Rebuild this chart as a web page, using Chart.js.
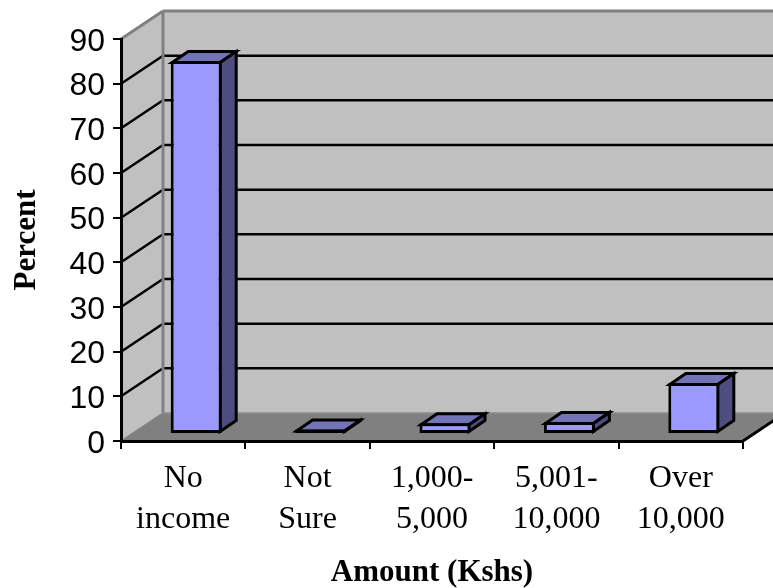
<!DOCTYPE html>
<html>
<head>
<meta charset="utf-8">
<title>Amount (Kshs)</title>
<script src="https://cdn.jsdelivr.net/npm/chart.js@4/dist/chart.umd.min.js"></script>
<style>
  body { margin: 0; background: #fff; }
  canvas { display: block; }
</style>
</head>
<body>
<canvas id="incomeChart" width="773" height="588"></canvas>
<script>
const categories = [['No', 'income'], ['Not', 'Sure'], ['1,000-', '5,000'], ['5,001-', '10,000'], ['Over', '10,000']];
const percentValues = [83.5, 1, 2.4, 2.7, 11.4];
const yMin = 0;
const yMax = 90;
const yStep = 10;

// depth of the fake 3D box and of each bar, in pixels
const wallDepth = { x: 42, y: -28 };
const barDepth = { x: 16, y: -11 };
const barShift = { x: 13, y: -7 };

const lineWidth = 3;

function polygon(ctx, points, fill, stroke) {
    ctx.beginPath();
    points.forEach((p, i) => i ? ctx.lineTo(p[0], p[1]) : ctx.moveTo(p[0], p[1]));
    ctx.closePath();
    ctx.fillStyle = fill;
    ctx.fill();
    if (stroke) {
        ctx.strokeStyle = stroke;
        ctx.lineWidth = lineWidth;
        ctx.lineJoin = 'miter';
        ctx.stroke();
    }
}

function line(ctx, x1, y1, x2, y2, color, width) {
    ctx.beginPath();
    ctx.moveTo(x1, y1);
    ctx.lineTo(x2, y2);
    ctx.strokeStyle = color;
    ctx.lineWidth = width;
    ctx.stroke();
}

// back wall, side wall, floor and the gridlines on them
const boxPlugin = {
    id: 'box3d',
    beforeDraw(chart) {
        const ctx = chart.ctx;
        const a = chart.chartArea;
        const y = chart.scales.y;
        const dx = wallDepth.x;
        const dy = wallDepth.y;
        const farRight = chart.width + 20;
        ctx.save();
        polygon(ctx, [[a.left + dx, a.top + dy], [farRight, a.top + dy], [farRight, a.bottom + dy], [a.left + dx, a.bottom + dy]], '#c0c0c0');
        polygon(ctx, [[a.left, a.top], [a.left + dx, a.top + dy], [a.left + dx, a.bottom + dy], [a.left, a.bottom]], '#c0c0c0');
        polygon(ctx, [[a.left, a.bottom], [a.right, a.bottom], [a.right + dx, a.bottom + dy], [a.left + dx, a.bottom + dy]], '#808080');

        for (let v = yMin + yStep; v < yMax; v += yStep) {
            const py = y.getPixelForValue(v);
            line(ctx, a.left, py, a.left + dx, py + dy, '#000', 2.5);
            line(ctx, a.left + dx, py + dy, farRight, py + dy, '#000', 2.5);
        }

        line(ctx, a.left, a.top, a.left + dx, a.top + dy, '#808080', lineWidth);
        line(ctx, a.left + dx, a.top + dy, farRight, a.top + dy, '#808080', lineWidth);
        line(ctx, a.left + dx, a.top + dy, a.left + dx, a.bottom + dy, '#808080', lineWidth);
        line(ctx, a.left, a.bottom, a.left + dx, a.bottom + dy, '#808080', 1.5);
        line(ctx, a.left + dx, a.bottom + dy, farRight, a.bottom + dy, '#8c8c8c', 1.5);
        line(ctx, a.right, a.bottom, a.right + dx, a.bottom + dy, '#000', lineWidth);
        ctx.restore();
    },
    // shift the library's bars onto the floor and add their top and side faces
    beforeDatasetDraw(chart, args) {
        const ctx = chart.ctx;
        ctx.save();
        ctx.translate(barShift.x, barShift.y);
        const inset = lineWidth / 2;
        args.meta.data.forEach(bar => {
            const { x, y, base, width } = bar.getProps(['x', 'y', 'base', 'width'], true);
            const left = x - width / 2 + inset;
            const right = x + width / 2 - inset;
            const top = y + inset;
            const bottom = base - inset;
            polygon(ctx, [[left, top], [left + barDepth.x, top + barDepth.y], [right + barDepth.x, top + barDepth.y], [right, top]], '#7373b8', '#000');
            polygon(ctx, [[right, top], [right + barDepth.x, top + barDepth.y], [right + barDepth.x, bottom + barDepth.y], [right, bottom]], '#4d4d80', '#000');
        });
    },
    afterDatasetDraw(chart) {
        chart.ctx.restore();
    }
};

new Chart(document.getElementById('incomeChart'), {
    type: 'bar',
    data: {
        labels: categories,
        datasets: [{
            data: percentValues,
            backgroundColor: '#9999ff',
            borderColor: '#000',
            borderWidth: lineWidth,
            borderSkipped: false,
            barPercentage: 0.41,
            categoryPercentage: 1,
            clip: false
        }]
    },
    options: {
        responsive: false,
        animation: false,
        layout: { padding: { top: 39, right: 30, bottom: 0, left: 0 } },
        plugins: { legend: { display: false }, tooltip: { enabled: false } },
        scales: {
            x: {
                afterFit(scale) { scale.height = 147; },
                border: { color: '#000', width: lineWidth },
                grid: { drawOnChartArea: false, drawTicks: true, tickLength: 8, color: '#000', lineWidth: 2 },
                ticks: {
                    color: '#000',
                    padding: 9,
                    maxRotation: 0,
                    autoSkip: false,
                    font: { family: '"Liberation Serif"', size: 32, lineHeight: '41px' }
                },
                title: {
                    display: true,
                    text: 'Amount (Kshs)',
                    color: '#000',
                    padding: { top: 0, bottom: 0 },
                    font: { family: '"Liberation Serif"', size: 31, weight: 'bold', lineHeight: 1 }
                }
            },
            y: {
                min: yMin,
                max: yMax,
                afterFit(scale) { scale.width = 121; },
                border: { color: '#000', width: lineWidth },
                grid: { drawOnChartArea: false, drawTicks: true, tickLength: 8, color: '#000', lineWidth: 2 },
                ticks: {
                    stepSize: yStep,
                    color: '#000',
                    padding: 8,
                    labelOffset: 3,
                    font: { family: '"Liberation Sans"', size: 32 }
                },
                title: {
                    display: true,
                    text: 'Percent',
                    color: '#000',
                    padding: { top: 8, bottom: 0 },
                    font: { family: '"Liberation Serif"', size: 31, weight: 'bold' }
                }
            }
        }
    },
    plugins: [boxPlugin]
});
</script>
</body>
</html>
